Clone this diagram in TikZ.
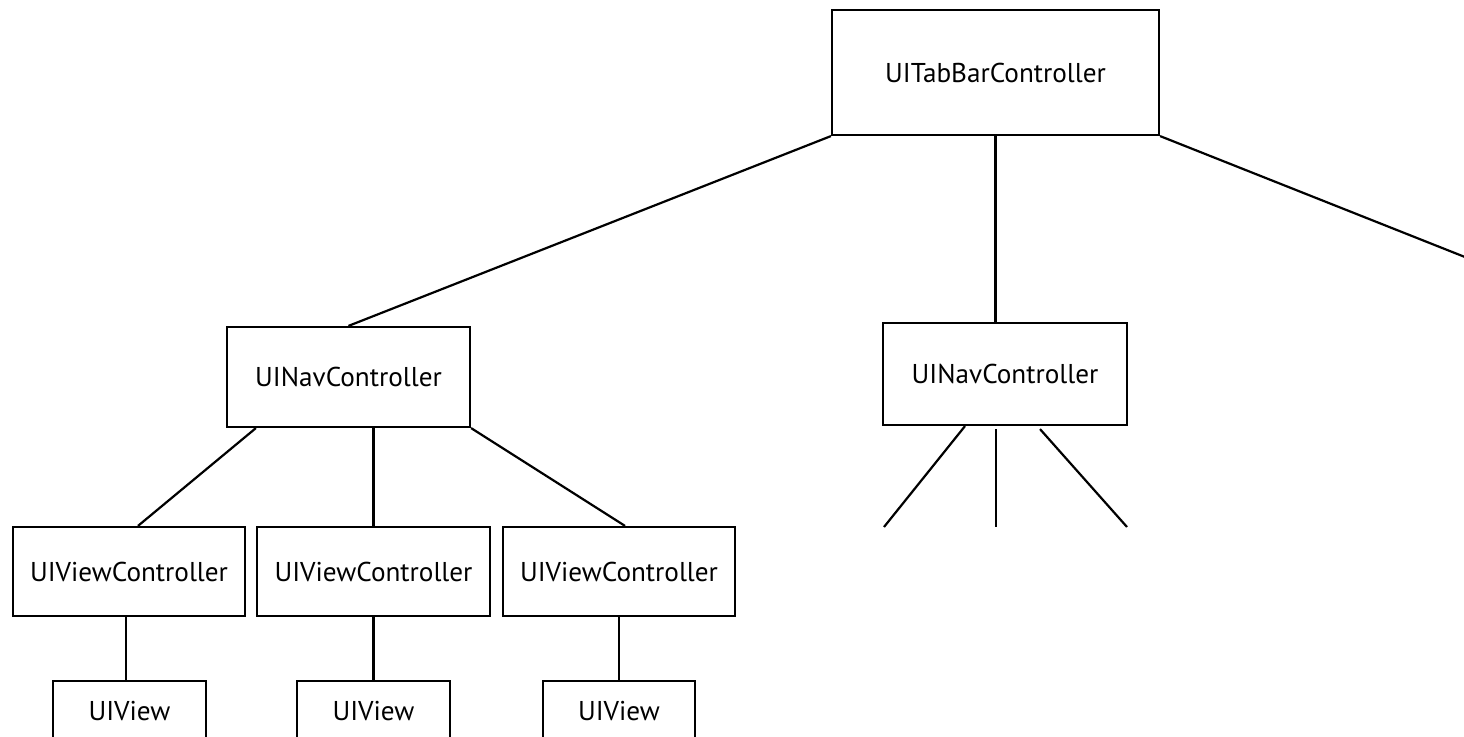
\documentclass[tikz,border=0pt]{standalone}
\usepackage{fontspec}
\setmainfont{PT Sans}
\usetikzlibrary{calc}
\tikzset{
  ctrlbox/.style={draw, line width=1.1pt, inner sep=0pt, font=\fontsize{13.6}{16}\selectfont},
  link/.style={line width=1.1pt},
}
\begin{document}
\begin{tikzpicture}[x=0.5pt,y=-0.5pt]
  \useasboundingbox (0,0) rectangle (1464,737);
  \clip (0,0) rectangle (1464,737);

  % Root controller
  \node[ctrlbox, minimum width=163.5pt, minimum height=62.5pt] (tab) at (995.5,72.5) {UITabBarController};

  % Navigation controllers
  \node[ctrlbox, minimum width=121.5pt, minimum height=50pt] (navL) at (348.5,377) {UINavController};
  \node[ctrlbox, minimum width=122pt, minimum height=51pt] (navR) at (1005,374) {UINavController};

  % View controllers
  \node[ctrlbox, minimum width=116pt, minimum height=44.5pt] (vcA) at (129,571.5) {UIViewController};
  \node[ctrlbox, minimum width=116.5pt, minimum height=44.5pt] (vcB) at (373.5,571.5) {UIViewController};
  \node[ctrlbox, minimum width=116pt, minimum height=44.5pt] (vcC) at (619,571.5) {UIViewController};

  % Views (cut by the lower edge)
  \node[ctrlbox, minimum width=76.5pt, minimum height=30pt] (viewA) at (129.5,711) {UIView};
  \node[ctrlbox, minimum width=76.5pt, minimum height=30pt] (viewB) at (373.5,711) {UIView};
  \node[ctrlbox, minimum width=76pt, minimum height=30pt] (viewC) at (619,711) {UIView};

  % Free ends
  \coordinate (offR) at (1480,263);
  \coordinate (endA) at (884,527);
  \coordinate (endB) at (996,527);
  \coordinate (endC) at (1127,527);

  % Tab bar to its children
  \draw[link] (tab.south west) -- (navL.north);
  \draw[link] (tab.south) -- (tab.south |- navR.north);
  \draw[link] (tab.south east) -- (offR);

  % Left navigation stack
  \draw[link] ([xshift=15pt]navL.south west) -- ([xshift=4.5pt]vcA.north);
  \draw[link] (navL.south -| vcB.north) -- (vcB.north);
  \draw[link] (navL.south east) -- ([xshift=3pt]vcC.north);

  % Right navigation stack
  \draw[link] ([xshift=-20pt]navR.south) -- (endA);
  \draw[link] ([yshift=-1.5pt]navR.south -| endB) -- (endB);
  \draw[link] ([xshift=17.5pt,yshift=-1.5pt]navR.south) -- (endC);

  % Controllers to views
  \draw[link] ([xshift=-1.5pt]vcA.south) -- ([xshift=-1.5pt]vcA.south |- viewA.north);
  \draw[link] (vcB.south) -- (viewB.north);
  \draw[link] (vcC.south) -- (viewC.north);
\end{tikzpicture}
\end{document}
